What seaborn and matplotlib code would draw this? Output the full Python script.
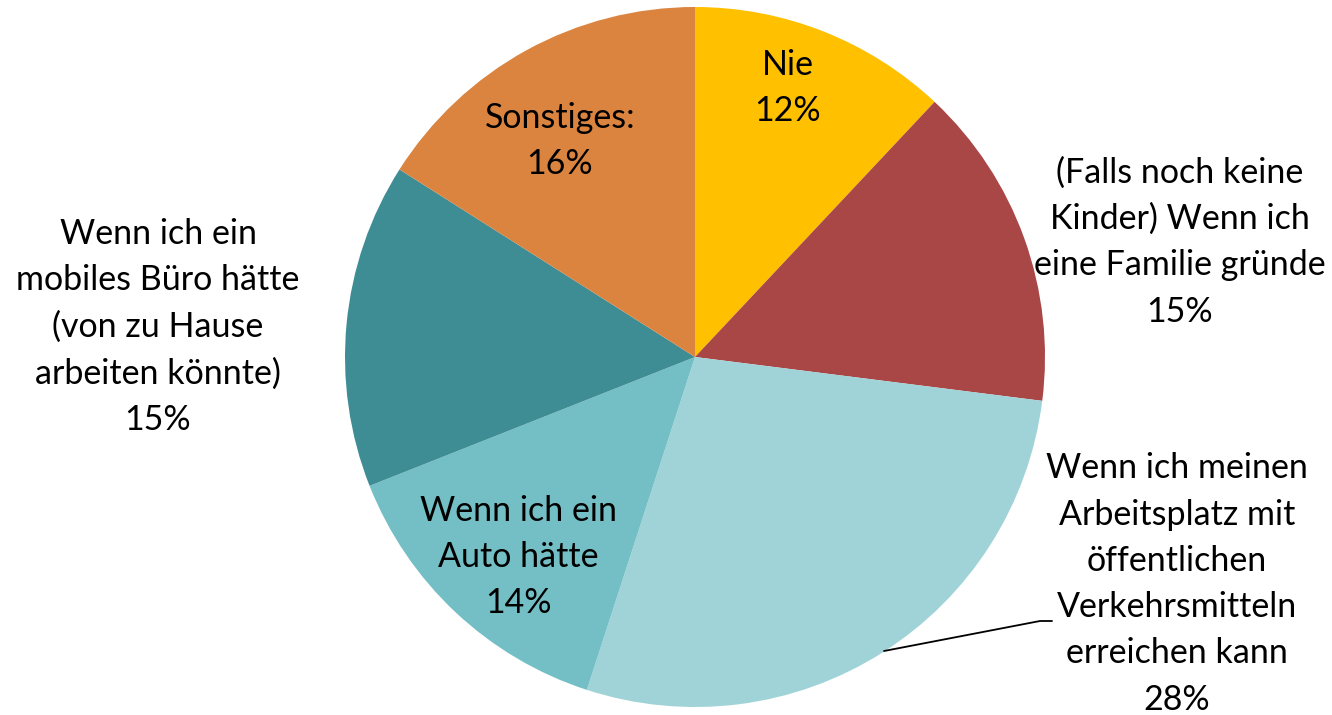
import matplotlib
matplotlib.use("Agg")
import matplotlib.pyplot as plt
import seaborn as sns

# Daten
labels = [
    "Nie",
    "(Falls noch keine\nKinder) Wenn ich\neine Familie gründe",
    "Wenn ich meinen\nArbeitsplatz mit\nöffentlichen\nVerkehrsmitteln\nerreichen kann",
    "Wenn ich ein\nAuto hätte",
    "Wenn ich ein\nmobiles Büro hätte\n(von zu Hause\narbeiten könnte)",
    "Sonstiges:",
]
values = [12, 15, 28, 14, 15, 16]
colors = ["#FFC000", "#A94646", "#A0D3D7", "#73BFC5", "#3F8D94", "#DB843F"]

# Layout der Beschriftungen (Pixel, Ursprung oben links)
label_pos = [(788, 88), (1180, 242), (1177, 584), (518, 557), (158, 327), (560, 141)]

sns.set_theme(style="white")
plt.rcParams["font.family"] = ["Lato", "DejaVu Sans"]

W, H = 1332, 715
fig = plt.figure(figsize=(W / 100, H / 100), dpi=100)
ax = fig.add_axes([0, 0, 1, 1])

cx, cy, r = 695, H - 357, 350
ax.pie(values, colors=colors, startangle=90, counterclock=False,
       center=(cx, cy), radius=r, frame=True,
       wedgeprops=dict(linewidth=0))
ax.set_xlim(0, W)
ax.set_ylim(0, H)
ax.set_aspect("equal")
ax.axis("off")

for lab, v, (x, y) in zip(labels, values, label_pos):
    ax.text(x, H - y, f"{lab}\n{v}%", ha="center", va="center",
            fontsize=24.5, linespacing=1.55, color="black")

# Führungslinie
ax.plot([884, 1040, 1052], [H - 651, H - 621, H - 621], color="black", lw=1.3)

fig.savefig("out.png", dpi=100)
